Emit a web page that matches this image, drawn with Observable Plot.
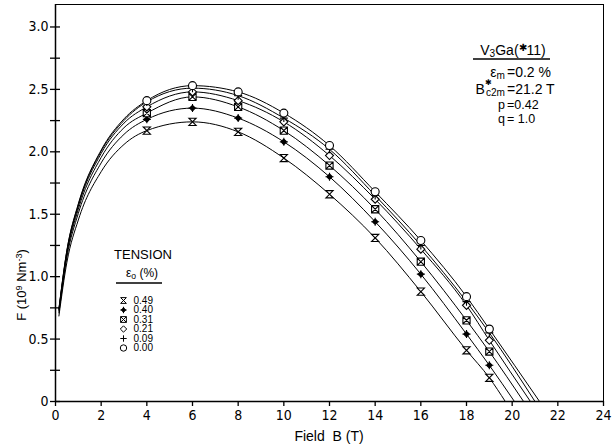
<!DOCTYPE html>
<html><head><meta charset="utf-8">
<script src="https://cdn.jsdelivr.net/npm/d3@7"></script>
<script src="https://cdn.jsdelivr.net/npm/@observablehq/plot@0.6"></script>
<style>
body{margin:0;background:#fff;}
#chart svg{display:block;}
</style>
</head><body><div id="chart"></div>
<script>
// ---- data ----
const tensions = ["0.49", "0.40", "0.31", "0.21", "0.09", "0.00"];
// measured points (markers)
const fields = [4, 6, 8, 10, 12, 14, 16, 18, 19];
const F_049 = [2.17, 2.24, 2.16, 1.95, 1.66, 1.31, 0.88, 0.41, 0.19];
const F_040 = [2.26, 2.35, 2.27, 2.08, 1.80, 1.44, 1.02, 0.54, 0.29];
const F_031 = [2.31, 2.44, 2.36, 2.17, 1.89, 1.54, 1.12, 0.65, 0.40];
const F_021 = [2.36, 2.48, 2.41, 2.24, 1.97, 1.62, 1.22, 0.77, 0.49];
const F_009 = [2.40, 2.51, 2.45, 2.27, 2.02, 1.65, 1.25, 0.80, 0.55];
const F_000 = [2.41, 2.53, 2.48, 2.31, 2.05, 1.68, 1.29, 0.84, 0.58];
// fitted curves: low-field part and field where each curve reaches zero
const lowFields = [0.15, 0.5, 1, 2, 3];
const low_049 = [0.685, 1.116, 1.454, 1.841, 2.059];
const low_040 = [0.710, 1.156, 1.507, 1.911, 2.140];
const low_031 = [0.725, 1.181, 1.540, 1.955, 2.193];
const low_021 = [0.735, 1.198, 1.564, 1.987, 2.230];
const low_009 = [0.741, 1.209, 1.577, 2.005, 2.251];
const low_000 = [0.744, 1.213, 1.584, 2.014, 2.264];
const endFields = [19.7, 20.1, 20.5, 20.8, 21.0, 21.2];
// axis ticks
const yTicks = [0, 0.5, 1, 1.5, 2, 2.5, 3];
const yMinor = [0.25, 0.75, 1.25, 1.75, 2.25, 2.75];
const xTicks = [0, 2, 4, 6, 8, 10, 12, 14, 16, 18, 20, 22, 24];

// ---- tables ----
const measuredVals = [F_049, F_040, F_031, F_021, F_009, F_000];
const lowVals = [low_049, low_040, low_031, low_021, low_009, low_000];
const measured = tensions.flatMap((t, i) => fields.map((b, j) => ({tension: t, B: b, F: measuredVals[i][j]})));
const curves = tensions.flatMap((t, i) => [
  ...lowFields.map((b, j) => ({tension: t, B: b, F: lowVals[i][j]})),
  ...fields.map((b, j) => ({tension: t, B: b, F: measuredVals[i][j]})),
  {tension: t, B: endFields[i], F: 0}
]);

// ---- custom symbols ----
const rad = s => Math.sqrt(s / Math.PI);
const hourglass = {draw(c, s) { const r = rad(s) * 0.9; c.moveTo(-r, -r); c.lineTo(r, -r); c.lineTo(-r, r); c.lineTo(r, r); c.closePath(); }};
const diamondPlus = {draw(c, s) { const r = rad(s); const k = r * 0.7;
  c.moveTo(0, -k); c.lineTo(k, 0); c.lineTo(0, k); c.lineTo(-k, 0); c.closePath();
  c.moveTo(-r, 0); c.lineTo(r, 0); c.moveTo(0, -r); c.lineTo(0, r); }};
const boxX = {draw(c, s) { const r = rad(s) * 0.9;
  c.moveTo(-r, -r); c.lineTo(r, -r); c.lineTo(r, r); c.lineTo(-r, r); c.closePath();
  c.moveTo(-r, -r); c.lineTo(r, r); c.moveTo(r, -r); c.lineTo(-r, r); }};
const diamondOpen = {draw(c, s) { const r = rad(s); c.moveTo(0, -r); c.lineTo(r, 0); c.lineTo(0, r); c.lineTo(-r, 0); c.closePath(); }};
const plusSym = {draw(c, s) { const r = rad(s); c.moveTo(-r, 0); c.lineTo(r, 0); c.moveTo(0, -r); c.lineTo(0, r); }};
const circleSym = {draw(c, s) { const r = rad(s); c.moveTo(r, 0); c.arc(0, 0, r, 0, 2 * Math.PI); c.closePath(); }};
const symbols = [hourglass, diamondPlus, boxX, diamondOpen, plusSym, circleSym];
const fills = ["white", "black", "white", "white", "none", "white"];

const FONT = "'Liberation Sans', Arial, sans-serif";
const TICKFONT = "'Liberation Sans Narrow', 'DejaVu Sans Condensed', 'Liberation Sans', sans-serif";

const blank = () => "";
const chart = Plot.plot({
  width: 612, height: 444,
  marginLeft: 55, marginRight: 9, marginTop: 4, marginBottom: 43,
  x: {domain: [0, 24]},
  y: {domain: [0, 3.18]},
  style: {fontFamily: TICKFONT, fontSize: "14px", background: "white", color: "black", overflow: "visible"},
  marks: [
    Plot.frame({stroke: "black", strokeWidth: 1}),
    Plot.ruleX([0], {stroke: "black", strokeWidth: 1.5}),
    Plot.ruleY([0], {stroke: "black", strokeWidth: 1.5}),
    Plot.axisY({ticks: yTicks, tickSize: 5, tickPadding: 2, tickFormat: d => d === 0 ? "0" : d.toFixed(1), label: null, strokeWidth: 1.3}),
    Plot.axisY({ticks: yTicks, tickSize: 5, dx: 5, tickFormat: blank, label: null, strokeWidth: 1.3}),
    Plot.axisY({ticks: yMinor, tickSize: 5, tickFormat: blank, label: null, strokeWidth: 1.3}),
    Plot.axisY({ticks: yMinor, tickSize: 5, dx: 5, tickFormat: blank, label: null, strokeWidth: 1.3}),
    Plot.axisX({ticks: xTicks, tickSize: 5, tickPadding: 4, label: null, strokeWidth: 1.3}),
    Plot.line(curves, {x: "B", y: "F", z: "tension", curve: "monotone-x", stroke: "black", strokeWidth: 1}),
    ...tensions.map((t, i) => Plot.dot(measured.filter(d => d.tension === t),
      {x: "B", y: "F", symbol: symbols[i], r: 4, stroke: "black", strokeWidth: 1.1, fill: fills[i]})),
    // legend entries
    ...tensions.map((t, i) => Plot.dot([t],
      {frameAnchor: "top-left", dx: 68, dy: 296 + 9.5 * i, symbol: symbols[i], r: 3.2, stroke: "black", strokeWidth: 1, fill: fills[i]})),
    ...tensions.map((t, i) => Plot.text([t],
      {frameAnchor: "top-left", dx: 78, dy: 296 + 9.5 * i, text: d => d, textAnchor: "start", lineAnchor: "middle",
       fontSize: 10, fontFamily: FONT, fill: "black"}))
  ]
});
document.getElementById("chart").appendChild(chart);

// ---- annotations ----
const svg = d3.select(chart);
const g = svg.append("g").attr("font-family", FONT).attr("fill", "black");
function txt(x, y, size, anchor, parts, rotate) {
  const t = g.append("text").attr("x", x).attr("y", y).attr("font-size", size).attr("text-anchor", anchor);
  if (rotate) t.attr("transform", `rotate(-90 ${x} ${y})`);
  for (const p of parts) {
    const s = t.append("tspan").text(p.t);
    if (p.sub) s.attr("baseline-shift", "-0.22em").attr("font-size", size * 0.72);
    if (p.sup) s.attr("baseline-shift", p.supShift || "0.4em").attr("font-size", p.supSize || size * 0.7);
    if (p.dx) s.attr("dx", p.dx);
  }
  return t;
}
// title block, top right
txt(513, 55, 14, "middle", [{t: "V"}, {t: "3", sub: true}, {t: "Ga("}, {t: "✱", sup: true}, {t: "11)"}]);
g.append("line").attr("x1", 473).attr("x2", 550).attr("y1", 59).attr("y2", 59).attr("stroke", "black").attr("stroke-width", 1.6);
txt(505, 77, 14, "end", [{t: "ε"}, {t: "m", sub: true}]);
txt(507, 77, 14, "start", [{t: "=0.2 %"}]);
txt(505, 94, 14, "end", [{t: "B"}, {t: "✱", sup: true, supSize: 8, supShift: "1.1em"}, {t: "c2m", sub: true, dx: -6}]);
txt(507, 94, 14, "start", [{t: "=21.2 T"}]);
txt(505, 109, 12.5, "end", [{t: "p"}]);
txt(507, 109, 12.5, "start", [{t: "=0.42"}]);
txt(505, 123, 12.5, "end", [{t: "q"}]);
txt(507, 123, 12.5, "start", [{t: "= 1.0"}]);
// legend title
txt(143, 259, 13, "middle", [{t: "TENSION"}]);
txt(142, 277, 12, "middle", [{t: "ε"}, {t: "o", sub: true}, {t: " (%)"}]);
g.append("line").attr("x1", 116).attr("x2", 162).attr("y1", 283).attr("y2", 283).attr("stroke", "black").attr("stroke-width", 1.6);
// axis titles
txt(329, 441, 14, "middle", [{t: "Field  B (T)"}]);
txt(26, 285, 13, "middle", [{t: "F (10"}, {t: "9", sup: true}, {t: " Nm"}, {t: "-3", sup: true}, {t: ")"}], true);
</script>
</body></html>
